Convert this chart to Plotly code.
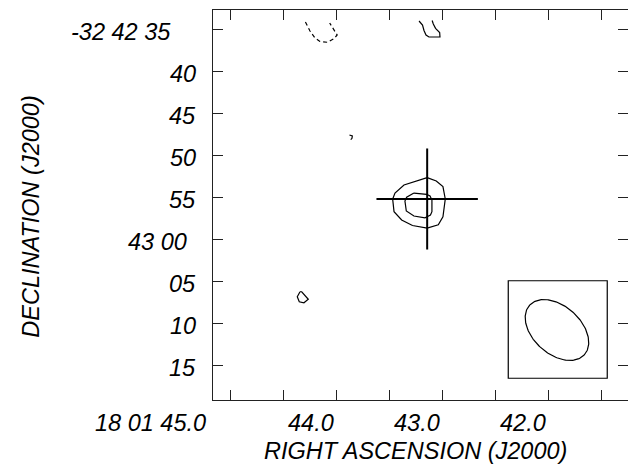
import numpy as np
import plotly.graph_objects as go

# ---- data (RA seconds of 18h01m, Dec arcsec south of -32d42m00s) ----
ra_ticks = [44.5, 44.0, 43.5, 43.0, 42.5, 42.0, 41.5, 41.0]
ra_labels = ["44.0", "43.0", "42.0"]
ra_label_vals = [44.0, 43.0, 42.0]
ra_first_label = "18 01 45.0"
dec_ticks = [35, 40, 45, 50, 55, 60, 65, 70, 75]
dec_labels = ["-32 42 35", "40", "45", "50", "55", "43 00", "05", "10", "15"]

outer_ra = [42.642, 42.861, 42.946, 42.968, 42.955, 42.883, 42.781, 42.642, 42.537, 42.493, 42.471, 42.493, 42.556, 42.642]
outer_dec = [52.68, 53.55, 54.51, 55.22, 56.73, 57.72, 58.38, 58.68, 58.29, 57.33, 55.22, 53.75, 53.08, 52.68]

inner_ra = [42.767, 42.836, 42.852, 42.839, 42.767, 42.663, 42.611, 42.597, 42.597, 42.615, 42.647, 42.702, 42.767]
inner_dec = [54.51, 55.01, 55.46, 56.65, 57.25, 57.46, 57.13, 56.73, 55.34, 54.86, 54.66, 54.57, 54.51]

neg_ra = [43.792, 43.749, 43.702, 43.655, 43.584, 43.524, 43.492, 43.532, 43.563]
neg_dec = [34.13, 35.20, 36.04, 36.45, 36.55, 36.13, 35.68, 34.94, 34.25]

top_ra = [42.719, 42.686, 42.672, 42.653, 42.625, 42.568, 42.521, 42.524, 42.563, 42.584, 42.595]
top_dec = [34.01, 34.49, 35.14, 35.68, 35.92, 35.95, 35.92, 35.38, 34.88, 34.37, 33.95]

hook_ra = [43.376, 43.349, 43.352, 43.364]
hook_dec = [47.59, 47.71, 47.99, 48.14]

blob_ra = [43.843, 43.869, 43.850, 43.806, 43.765, 43.796, 43.827, 43.843]
blob_dec = [66.27, 66.86, 67.46, 67.58, 67.17, 66.66, 66.27, 66.27]

cross_ra = [42.642]
cross_dec = [55.22]
cross_err_ra = [0.479]
cross_err_dec = [6.02]

beam_box_ra = [41.876, 40.941]
beam_box_dec = [64.96, 76.58]
beam_center = [41.416, 70.83]
beam_major = 8.8   # arcsec
beam_minor = 5.7   # arcsec
beam_pa = 48.0     # deg, N through E
arcsec_per_sec = 12.614

x_range = [44.665, 40.745]
y_range = [79.17, 32.70]

# ---- figure ----
# page has an 8px body margin: figure starts at page (8, 8)
OFF = 8
W, H = 636 - OFF, 468 - OFF
ml, mr, mt, mb = 213 - OFF, 8, 10 - OFF, 68
pw, ph = W - ml - mr, H - mt - mb
FONT = "Liberation Sans, Arial, sans-serif"
lc = "black"

fig = go.Figure()

def add_line(xs, ys, dash="solid", width=1.2):
    fig.add_trace(go.Scatter(x=xs, y=ys, mode="lines",
                             line=dict(color=lc, width=width, dash=dash),
                             hoverinfo="skip", showlegend=False))

add_line(outer_ra, outer_dec)
add_line(inner_ra, inner_dec)
add_line(neg_ra, neg_dec, dash="4px,3px")
add_line(top_ra, top_dec)
add_line(hook_ra, hook_dec)
add_line(blob_ra, blob_dec)

# cross (position with errors)
fig.add_trace(go.Scatter(
    x=cross_ra, y=cross_dec, mode="markers",
    marker=dict(size=1, color=lc),
    error_x=dict(type="data", array=cross_err_ra, width=0, thickness=2, color=lc),
    error_y=dict(type="data", array=cross_err_dec, width=0, thickness=2, color=lc),
    hoverinfo="skip", showlegend=False))

# beam ellipse
t = np.linspace(0, 2 * np.pi, 181)
pa = np.deg2rad(beam_pa)
a, b = beam_major / 2, beam_minor / 2
east = a * np.cos(t) * np.sin(pa) + b * np.sin(t) * np.cos(pa)
north = a * np.cos(t) * np.cos(pa) - b * np.sin(t) * np.sin(pa)
add_line(beam_center[0] + east / arcsec_per_sec, beam_center[1] - north)

fig.add_shape(type="rect", xref="x", yref="y",
              x0=beam_box_ra[0], x1=beam_box_ra[1],
              y0=beam_box_dec[0], y1=beam_box_dec[1],
              line=dict(color=lc, width=1.2))

axis_common = dict(showline=True, mirror="ticks", linecolor="#222", linewidth=1,
                   ticks="inside", ticklen=10, tickcolor="#222", tickwidth=1,
                   showgrid=False, zeroline=False, showticklabels=False)

fig.update_xaxes(range=x_range, tickmode="array", tickvals=ra_ticks, **axis_common)
fig.update_yaxes(range=y_range, tickmode="array", tickvals=dec_ticks, **axis_common)

# helpers: page pixel -> paper fraction
def px2paper_x(px):
    return (px - OFF - ml) / pw

def py2paper_y(py):
    return (H - mb - (py - OFF)) / ph

ann = []
tf = dict(family=FONT, size=23.5, color="black")
# x tick labels
ann.append(dict(text="<i>" + ra_first_label + "</i>", xref="paper", yref="paper",
                x=px2paper_x(207.5), y=py2paper_y(423), xanchor="right", yanchor="middle",
                showarrow=False, font=tf))
for v, s in zip(ra_label_vals, ra_labels):
    ann.append(dict(text="<i>" + s + "</i>", xref="x", yref="paper", x=v, xshift=28,
                    y=py2paper_y(423), xanchor="center", yanchor="middle",
                    showarrow=False, font=tf))
# y tick labels
right_end = {"-32 42 35": 172.5, "43 00": 189.0}
for v, s in zip(dec_ticks, dec_labels):
    ann.append(dict(text="<i>" + s + "</i>", xref="paper", yref="y",
                    x=px2paper_x(right_end.get(s, 197.5)), y=v, yshift=-3,
                    xanchor="right", yanchor="middle", showarrow=False, font=tf))
# axis titles
ann.append(dict(text="<i>RIGHT ASCENSION (J2000)</i>", xref="paper", yref="paper",
                x=px2paper_x(415), y=py2paper_y(451), xanchor="center", yanchor="middle",
                showarrow=False, font=tf))
ann.append(dict(text="<i>DECLINATION (J2000)</i>", xref="paper", yref="paper",
                x=px2paper_x(31), y=py2paper_y(216.7), xanchor="center", yanchor="middle",
                textangle=-90, showarrow=False, font=tf))

fig.update_layout(width=W, height=H, margin=dict(l=ml, r=mr, t=mt, b=mb),
                  paper_bgcolor="white", plot_bgcolor="white",
                  annotations=ann, showlegend=False)

fig.write_html("out.html")
